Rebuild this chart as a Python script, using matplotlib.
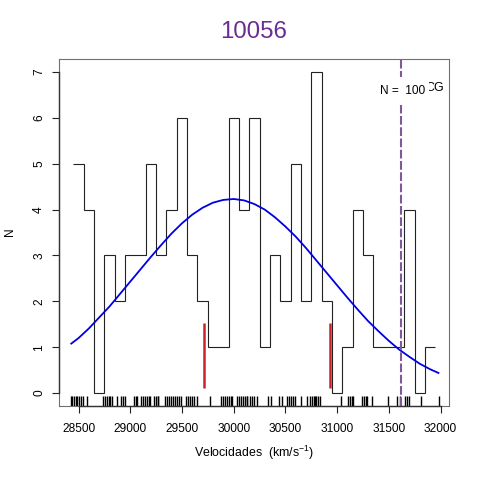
import matplotlib
matplotlib.use('Agg')
from matplotlib import pyplot as plt
from matplotlib.patches import Rectangle

plt.rcParams['font.family'] = ['Liberation Sans', 'DejaVu Sans']
plt.rcParams['mathtext.fontset'] = 'custom'
plt.rcParams['mathtext.rm'] = 'Liberation Sans'
plt.rcParams['mathtext.default'] = 'regular'

title = '10056'
bin_edges = [28450, 28550, 28650, 28750, 28850, 28950, 29050, 29150, 29250, 29350, 29450, 29550,
             29650, 29750, 29850, 29950, 30050, 30150, 30250, 30350, 30450, 30550, 30650, 30750,
             30850, 30950, 31050, 31150, 31250, 31350, 31450, 31550, 31650, 31750, 31850, 31950]
counts = [5, 4, 0, 3, 2, 3, 3, 5, 3, 4, 6, 3, 2, 1, 1, 6, 4, 6, 1, 3, 2, 5, 2, 7, 2, 0, 1, 4, 3, 1, 1, 1, 4, 0, 1]

curve_x = [28430, 28500, 28600, 28700, 28800, 28900, 29000, 29100, 29200, 29300, 29400, 29500,
           29600, 29700, 29800, 29900, 30000, 30100, 30200, 30300, 30400, 30500, 30600, 30700,
           30800, 30900, 31000, 31100, 31200, 31300, 31400, 31500, 31600, 31700, 31800, 31900, 31980]
curve_y = [1.08, 1.20, 1.41, 1.65, 1.89, 2.16, 2.43, 2.70, 2.97, 3.23, 3.48, 3.70,
           3.89, 4.04, 4.15, 4.21, 4.23, 4.20, 4.12, 4.00, 3.83, 3.63, 3.41, 3.16,
           2.89, 2.62, 2.35, 2.08, 1.82, 1.57, 1.35, 1.14, 0.95, 0.79, 0.64, 0.52, 0.44]

rug = [28423, 28437, 28456, 28471, 28485, 28505, 28524, 28544, 28585, 28740, 28756, 28776, 28795,
       28805, 28824, 28870, 28911, 28930, 28950, 29037, 29051, 29066, 29104, 29124, 29143, 29162,
       29182, 29191, 29230, 29245, 29264, 29272, 29337, 29356, 29375, 29395, 29414, 29433, 29452,
       29472, 29491, 29540, 29556, 29578, 29598, 29614, 29649, 29772, 29875, 29893, 29912, 29931,
       29951, 29970, 29982, 30030, 30047, 30067, 30086, 30105, 30125, 30133, 30159, 30178, 30197,
       30223, 30336, 30359, 30442, 30465, 30513, 30536, 30555, 30575, 30594, 30649, 30713, 30734,
       30753, 30772, 30787, 30797, 30816, 30836, 31036, 31109, 31126, 31140, 31152, 31245, 31261,
       31276, 31290, 31341, 31490, 31580, 31609, 31657, 31676, 31699, 31812, 31986]

red_x = [29710, 30932]
red_low = 0.11
red_high = 1.52
purple_x = 31619

x_ticks = [28500, 29000, 29500, 30000, 30500, 31000, 31500, 32000]
y_ticks = [0, 1, 2, 3, 4, 5, 6, 7]
x_lim = (28311, 32082)
y_lim = (-0.28, 7.28)

fig = plt.figure(figsize=(4.8, 4.8), dpi=100)
ax = fig.add_axes([59 / 480, 1 - 406 / 480, 390 / 480, 347 / 480])

ax.stairs(counts, bin_edges, baseline=None, color='#222222', linewidth=0.8, zorder=2)
ax.plot(curve_x, curve_y, color='#0000e0', linewidth=1.3, zorder=3)
ax.vlines(rug, 0, 0.03, transform=ax.get_xaxis_transform(), color='black', linewidth=1, zorder=2)
ax.vlines(red_x, red_low, red_high, color='#c8242c', linewidth=1.8, zorder=3)
ax.axvline(purple_x, color='#7f5a9b', linewidth=1.5, dashes=(4.2, 1.2), zorder=3)

# legend text half hidden by the white box of the N label
ax.text(0.987, 0.917, 'CG', transform=ax.transAxes, ha='right', va='center', fontsize=9, zorder=4)
ax.add_patch(Rectangle((0.815, 0.868), 0.133, 0.08, transform=ax.transAxes,
                       facecolor='white', edgecolor='none', zorder=5))
ax.text(0.88, 0.908, 'N =  100', transform=ax.transAxes, ha='center', va='center', fontsize=8.6, zorder=6)

ax.set_xlim(x_lim)
ax.set_ylim(y_lim)
ax.set_xticks(x_ticks)
ax.set_yticks(y_ticks)
ax.tick_params(axis='both', length=5, width=0.8, labelsize=8.6, color='#222222', pad=5)
ax.tick_params(axis='x', pad=7)
for lab in ax.get_yticklabels():
    lab.set_rotation(90)
    lab.set_va('center')
for s in ax.spines.values():
    s.set_color('#707070')
    s.set_linewidth(0.8)

# axis lines between the end ticks are darker than the box
ax.plot([x_lim[0], x_lim[0]], [y_ticks[0], y_ticks[-1]], color='#333333', linewidth=1, clip_on=False, zorder=7)
ax.plot([x_ticks[0], x_ticks[-1]], [y_lim[0], y_lim[0]], color='#333333', linewidth=1, clip_on=False, zorder=7)

fig.text(254 / 480, 1 - 31.5 / 480, title, color='#6a2c91', fontsize=17.3, ha='center', va='center')
fig.text(254.5 / 480, 1 - 453 / 480, r'Velocidades  (km/s$^{-1}$)', fontsize=8.9, ha='center', va='center')
fig.text(9.5 / 480, 1 - 232 / 480, 'N', fontsize=8.6, rotation=90, ha='center', va='center')

fig.savefig('out.png', dpi=100)
